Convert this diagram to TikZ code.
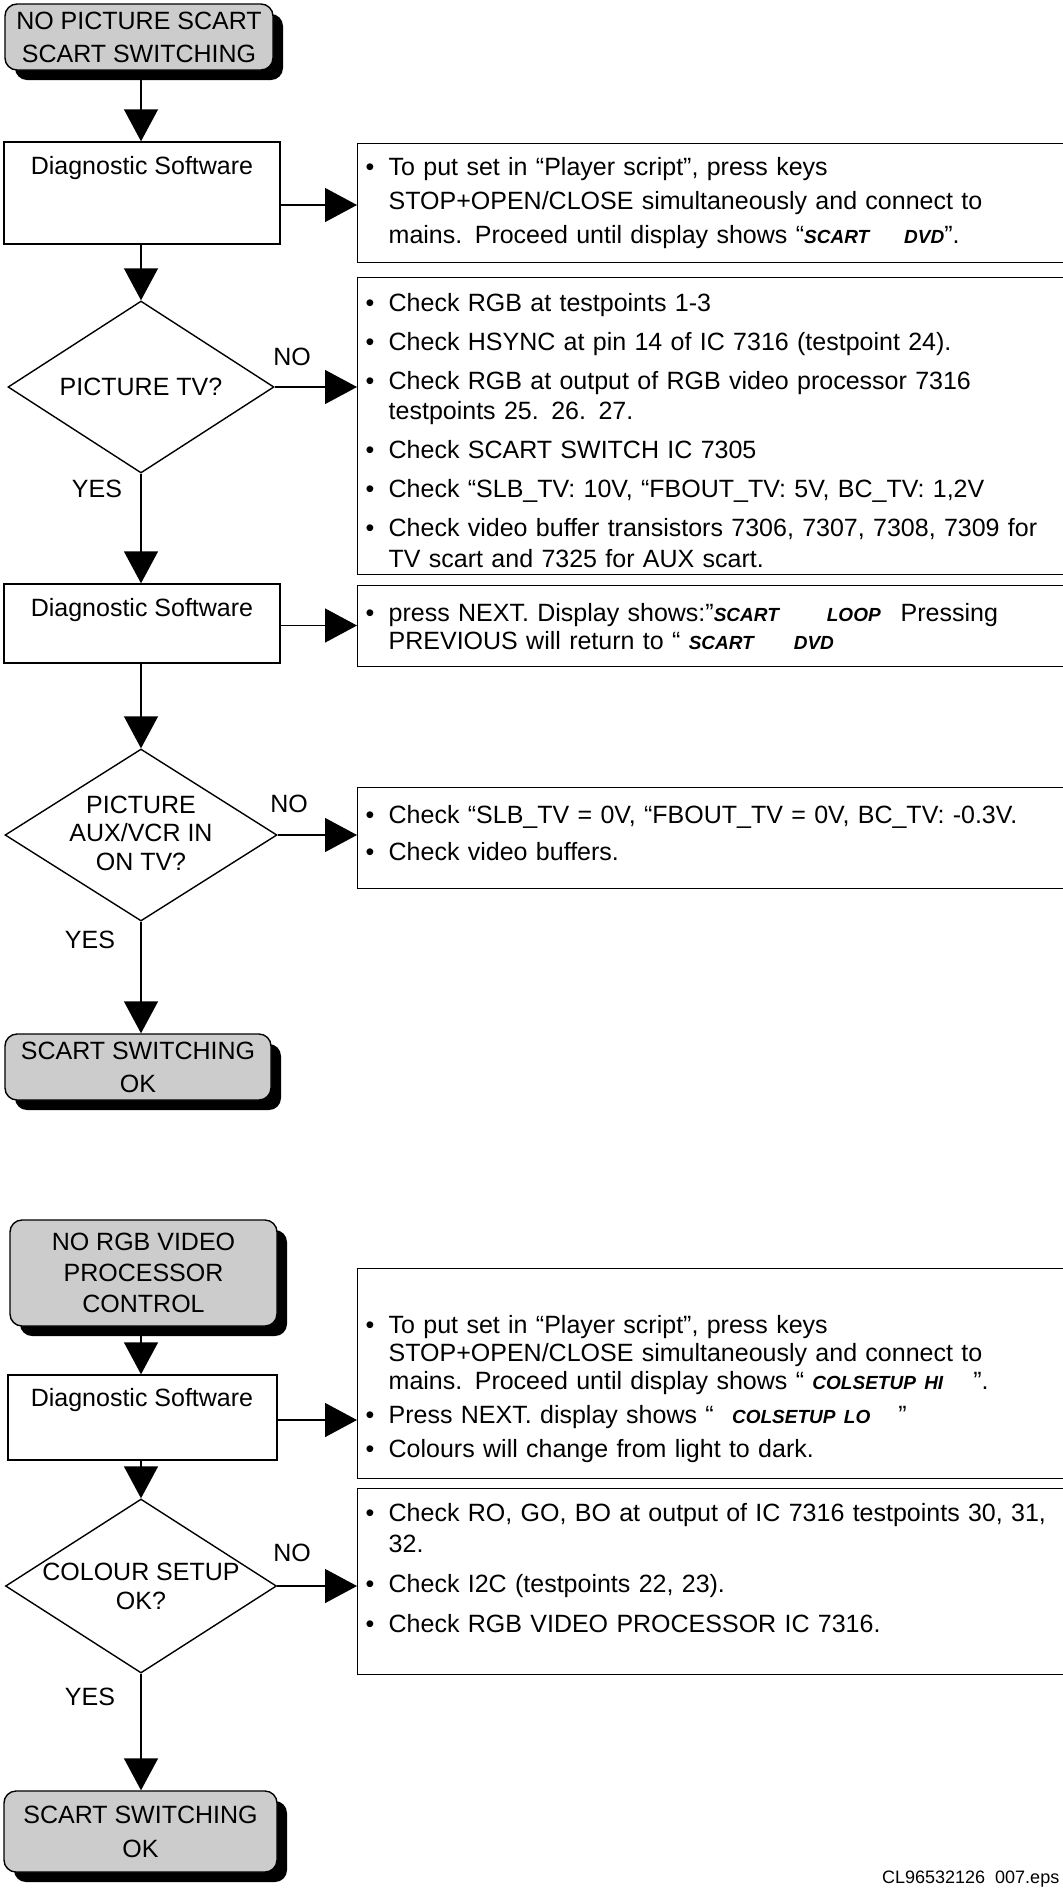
\documentclass[tikz,border=0pt]{standalone}
\usepackage{fontspec}
\setmainfont{Liberation Sans}
\usetikzlibrary{arrows.meta,shapes.geometric,shadows,calc}

% bulleted paragraph with hanging indent; lines broken by hand with \newline
\newcommand\bitem[1]{\noindent\hangindent=20pt\hangafter=1\makebox[20pt][l]{\hspace{-3pt}\textbullet}#1\par}
\newcommand\isep{\vspace{9pt}}
% display messages: small bold italic capitals
\newcommand\disp[1]{{\fontsize{19}{19}\selectfont\bfseries\itshape #1}}

\begin{document}
\begin{tikzpicture}[x=1pt,y=-1pt,
  line width=1.4pt,
  every node/.style={font=\fontsize{25}{31}\selectfont},
  term/.style={draw, rounded corners=12pt, fill=black!20, align=center, inner sep=0pt,
     drop shadow={shadow xshift=10pt, shadow yshift=-10pt, fill=black, opacity=1}},
  swbox/.style={draw, inner sep=0pt},
  dec/.style={draw, diamond, inner sep=0pt},
  infobox/.style={draw, anchor=north west, inner sep=0pt, minimum width=800pt},
  infotext/.style={anchor=north west, inner sep=0pt, text width=740pt},
  arr/.style={-{Triangle[length=32pt,width=34pt]}},
  ans/.style={inner sep=0pt},
]
\useasboundingbox (0,0) rectangle (1063,1888);

% ---------------- scart switching ----------------
\node[term, minimum width=268pt, minimum height=66pt, font=\fontsize{25}{33}\selectfont] (s1) at (139,37)
  {NO PICTURE SCART\\SCART SWITCHING};

\node[swbox, minimum width=276pt, minimum height=102pt] (d1) at (142,193) {};
\node (d1t) at (142,168) {Diagnostic Software};
\node[infobox, minimum height=119pt] (tb1) at (357,143) {};
\node[infotext, font=\fontsize{25}{34}\selectfont] (tb1t) at ($(tb1.north west)+(11,14)$) {\raggedright
  \bitem{To put set in “Player script”, press keys\newline STOP+OPEN/CLOSE simultaneously and connect to\newline mains. Proceed until display shows “\disp{SCART}\hspace{35pt}\disp{DVD}”.}};

\node[dec, minimum width=266pt, minimum height=172pt] (q1) at (141,387) {};
\node (q1t) at (q1.center) {PICTURE TV?};
\node[ans] (q1no) at (292,357) {NO};
\node[ans] (q1yes) at (97,489) {YES};
\node[infobox, minimum height=297pt] (tb2) at (357,277) {};
\node[infotext, font=\fontsize{25}{30.5}\selectfont] (tb2t) at ($(tb2.north west)+(11,15.5)$) {\raggedright
  \bitem{Check RGB at testpoints 1-3}
  \vspace{8.5pt}\bitem{Check HSYNC at pin 14 of IC 7316 (testpoint 24).}
  \vspace{8.5pt}\bitem{Check RGB at output of RGB video processor 7316\newline testpoints 25. 26. 27.}
  \vspace{8.5pt}\bitem{Check SCART SWITCH IC 7305}
  \vspace{8.5pt}\bitem{Check “SLB\_TV: 10V, “FBOUT\_TV: 5V, BC\_TV: 1,2V}
  \vspace{8.5pt}\bitem{Check video buffer transistors 7306, 7307, 7308, 7309 for\newline TV scart and 7325 for AUX scart.}};

\node[swbox, minimum width=276pt, minimum height=79pt] (d2) at (142,623.5) {};
\node (d2t) at (142,610) {Diagnostic Software};
\node[infobox, minimum height=81pt] (tb3) at (357,585) {};
\node[infotext, font=\fontsize{25}{28}\selectfont] (tb3t) at ($(tb3.north west)+(11,17.5)$) {\raggedright
  \bitem{press NEXT. Display shows:”\disp{SCART}\hspace{48pt}\disp{LOOP}\hspace{20pt}Pressing\newline PREVIOUS will return to “ \disp{SCART}\hspace{40pt}\disp{DVD}}};

\node[dec, minimum width=272pt, minimum height=172pt] (q2) at (141,835) {};
\node[align=center, font=\fontsize{25}{28.5}\selectfont] (q2t) at (141,833) {PICTURE\\AUX/VCR IN\\ON TV?};
\node[ans] (q2no) at (289,804) {NO};
\node[ans] (q2yes) at (90,940) {YES};
\node[infobox, minimum height=101pt] (tb4) at (357,787) {};
\node[infotext, font=\fontsize{25}{28}\selectfont] (tb4t) at ($(tb4.north west)+(11,18)$) {\raggedright
  \bitem{Check “SLB\_TV = 0V, “FBOUT\_TV = 0V, BC\_TV: -0.3V.}
  \isep\bitem{Check video buffers.}};

\node[term, minimum width=266pt, minimum height=66pt, font=\fontsize{25}{33}\selectfont] (e1) at (138,1067)
  {SCART SWITCHING\\OK};

% ---------------- rgb video processor ----------------
\node[term, minimum width=267pt, minimum height=106pt, font=\fontsize{25}{31}\selectfont] (s2) at (143.5,1273)
  {NO RGB VIDEO\\PROCESSOR\\CONTROL};

\node[swbox, minimum width=269pt, minimum height=85pt] (d3) at (142.5,1417.5) {};
\node (d3t) at (142,1400) {Diagnostic Software};
\node[infobox, minimum height=210pt] (tb5) at (357,1268) {};
\node[infotext, font=\fontsize{25}{28}\selectfont] (tb5t) at ($(tb5.north west)+(11,47)$) {\raggedright
  \bitem{To put set in “Player script”, press keys\newline STOP+OPEN/CLOSE simultaneously and connect to\newline mains. Proceed until display shows “ \disp{COLSETUP HI}\hspace{30pt}”.}
  \vspace{6pt}\bitem{Press NEXT. display shows “ \hspace{10pt}\disp{COLSETUP LO}\hspace{28pt}”}
  \vspace{6pt}\bitem{Colours will change from light to dark.}};

\node[dec, minimum width=271pt, minimum height=174pt] (q3) at (141,1586) {};
\node[align=center, font=\fontsize{25}{29}\selectfont] (q3t) at (141,1586) {COLOUR SETUP\\OK?};
\node[ans] (q3no) at (292,1553) {NO};
\node[ans] (q3yes) at (90,1697) {YES};
\node[infobox, minimum height=186pt] (tb6) at (357,1488) {};
\node[infotext] (tb6t) at ($(tb6.north west)+(11,14.5)$) {\raggedright
  \bitem{Check RO, GO, BO at output of IC 7316 testpoints 30, 31,\newline 32.}
  \isep\bitem{Check I2C (testpoints 22, 23).}
  \isep\bitem{Check RGB VIDEO PROCESSOR IC 7316.}};

\node[term, minimum width=273pt, minimum height=81pt, font=\fontsize{25}{34}\selectfont] (e2) at (140.5,1831.5)
  {SCART SWITCHING\\OK};

\node[anchor=east, inner sep=0pt, font=\fontsize{18}{18}\selectfont] (ref) at (1060,1879) {CL96532126\hspace{10pt}007.eps};

% ---------------- connectors ----------------
\draw[arr] (q1.north |- s1.south) -- (q1.north |- d1.north);
\draw[arr] ([yshift=-12pt]d1.east) -- ([yshift=-12pt]d1.east -| tb1.west);
\draw[arr] (q1.north |- d1.south) -- (q1.north);
\draw[arr] (q1.east) -- (q1.east -| tb2.west);
\draw[arr] (q1.south) -- (q1.south |- d2.north);
\draw[arr] ([yshift=-2pt]d2.east) -- ([yshift=-2pt]d2.east -| tb3.west);
\draw[arr] (q2.north |- d2.south) -- (q2.north);
\draw[arr] (q2.east) -- (q2.east -| tb4.west);
\draw[arr] (q2.south) -- (q2.south |- e1.north);

\draw[arr] (q3.north |- s2.south) -- (q3.north |- d3.north);
\draw[arr] ([yshift=-2.5pt]d3.east) -- ([yshift=-2.5pt]d3.east -| tb5.west);
\draw[arr] (q3.north |- d3.south) -- (q3.north);
\draw[arr] (q3.east) -- (q3.east -| tb6.west);
\draw[arr] (q3.south) -- (q3.south |- e2.north);
\end{tikzpicture}
\end{document}
